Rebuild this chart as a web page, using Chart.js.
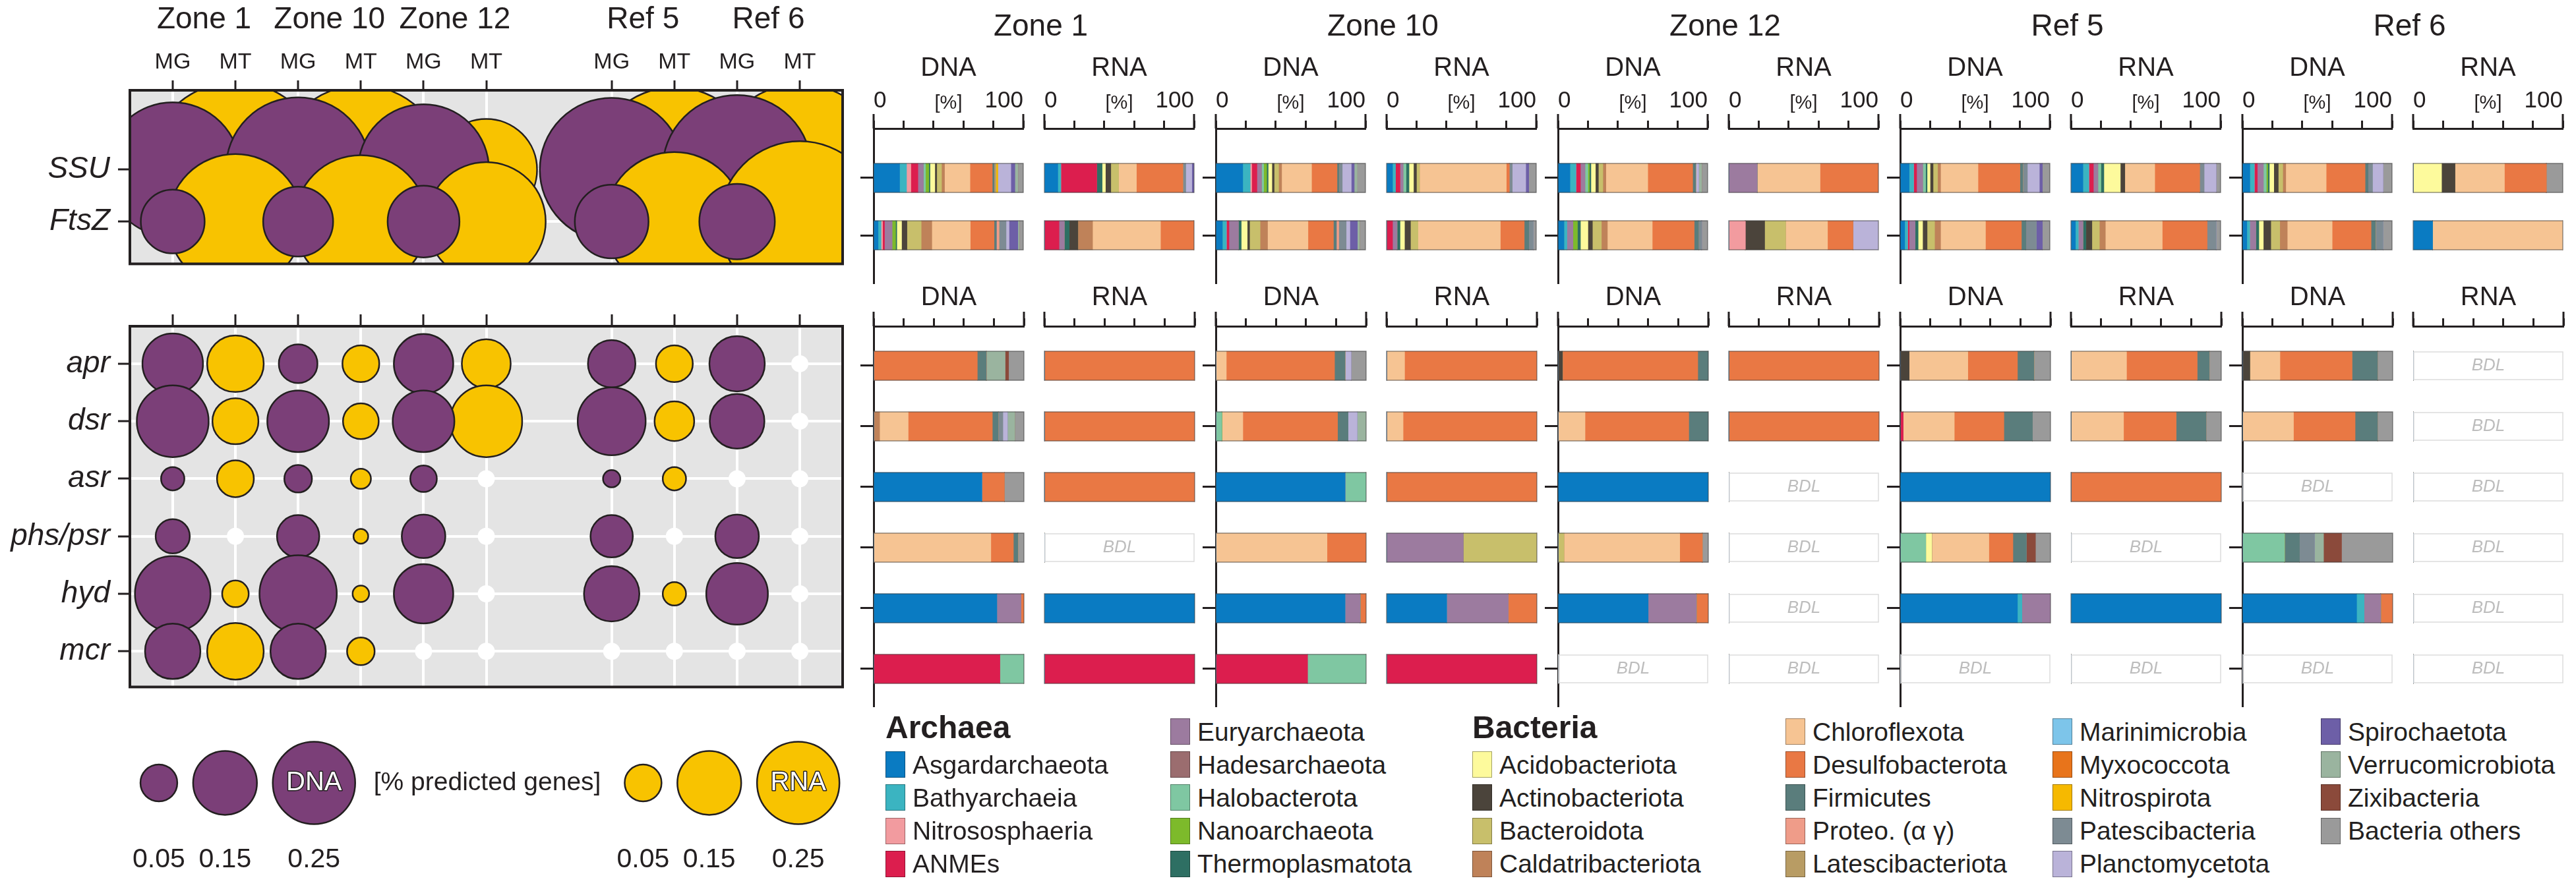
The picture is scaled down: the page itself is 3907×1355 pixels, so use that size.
<!DOCTYPE html>
<html><head><meta charset="utf-8">
<script src="https://cdn.jsdelivr.net/npm/chart.js@4.4.1/dist/chart.umd.min.js"></script>
<style>
html,body{margin:0;padding:0;background:#fff;}
#wrap{position:relative;width:3907px;height:1355px;overflow:hidden;background:#fff;font-family:'Liberation Sans',Arial,sans-serif;color:#231f20;}
canvas{position:absolute;}
.t{position:absolute;white-space:nowrap;line-height:1;}
.li{position:absolute;display:flex;align-items:center;height:50px;white-space:nowrap;}
.sw{width:30px;height:40px;box-sizing:border-box;border:1.5px solid rgba(0,0,0,0.35);margin-right:11px;flex:none;}
</style></head><body><div id="wrap"></div>
<script>
// ================= DATA =================
const zones = ['Zone 1', 'Zone 10', 'Zone 12', 'Ref 5', 'Ref 6'];
const zoneGroup = ['field', 'field', 'field', 'reference', 'reference'];
const libTypes = ['MG', 'MT'];
const nucTypes = ['DNA', 'RNA'];
const markerGenes = ['SSU', 'FtsZ'];
const funcGenes = ['apr', 'dsr', 'asr', 'phs/psr', 'hyd', 'mcr'];

// bubble values [% predicted genes] per zone (MG = DNA, MT = RNA)
const mgSSU  = [0.67, 0.77, 0.63, 0.76, 0.82];
const mtSSU  = [1.13, 1.05, 0.38, 1.00, 1.08];
const mgFtsZ = [0.15, 0.18, 0.19, 0.20, 0.21];
const mtFtsZ = [0.67, 0.65, 0.52, 0.71, 0.95];
const mgApr = [0.135, 0.055, 0.13, 0.083, 0.113];
const mtApr = [0.118, 0.05, 0.088, 0.05, 0];
const mgDsr = [0.19, 0.14, 0.14, 0.17, 0.11];
const mtDsr = [0.078, 0.047, 0.19, 0.058, 0];
const mgAsr = [0.02, 0.028, 0.026, 0.011, 0];
const mtAsr = [0.05, 0.015, 0, 0.02, 0];
const mgPhs = [0.043, 0.066, 0.07, 0.066, 0.07];
const mtPhs = [0, 0.008, 0, 0, 0];
const mgHyd = [0.21, 0.22, 0.13, 0.113, 0.14];
const mtHyd = [0.026, 0.01, 0, 0.02, 0];
const mgMcr = [0.113, 0.113, 0, 0, 0];
const mtMcr = [0.118, 0.028, 0, 0, 0];
const sizeRefVals = [0.05, 0.15, 0.25];

// taxa
const taxonCodes = ['Asg','Bat','Nit','ANM','Eur','Had','Hal','Nan','The','Aci','Act','Bac','Cal','Chl','Des','Fir','Pro','Lat','Mar','Myx','Nis','Pat','Pla','Spi','Ver','Zix','Oth'];
const taxonNames = ['Asgardarchaeota','Bathyarchaeia','Nitrososphaeria','ANMEs','Euryarchaeota','Hadesarchaeota','Halobacterota','Nanoarchaeota','Thermoplasmatota','Acidobacteriota','Actinobacteriota','Bacteroidota','Caldatribacteriota','Chloroflexota','Desulfobacterota','Firmicutes','Proteo. (\u03b1 \u03b3)','Latescibacteriota','Marinimicrobia','Myxococcota','Nitrospirota','Patescibacteria','Planctomycetota','Spirochaetota','Verrucomicrobiota','Zixibacteria','Bacteria others'];
const taxonColors = ['#0a7bc2','#3bb4c1','#f29b9f','#dc1e4e','#9c7b9f','#9b6d6f','#7fc7a2','#7dba2b','#2e6f63','#fdfa9c','#4b443b','#c8bf6b','#bf8259','#f6c493','#e97844','#5a7d7c','#ef9c89','#b89c64','#7dc5ea','#e8741b','#f6b900','#7d8b93','#bab3d9','#6d5fa7','#9ab49f','#8b4a3b','#9a9a9a'];

// taxonomic composition [%] of each bar (BDL = below detection limit)
const z1DnaMarker  = ['Asg 17.4 Bat 4.6 Nit 2.9 ANM 4.7 Eur 3.6 Hal 1.5 Nan 2.2 The 0.8 Aci 3.2 Act 1.3 Bac 3.2 Cal 2 Chl 17 Des 14.9 Fir 1.3 Lat 1 Nis 1.4 Pla 8.7 Spi 2.7 Ver 2 Oth 3.8',
                      'Asg 3 Bat 2 Nit 1 ANM 1.3 Eur 5 Nan 2.4 The 0.8 Aci 3.2 Act 3.6 Bac 9.5 Cal 7.1 Chl 25.7 Des 15.9 Fir 1.6 Pro 1.6 Pat 4.8 Pla 2 Spi 5.9 Ver 1 Oth 2.6'];
const z1RnaMarker  = ['Asg 9 Bat 2 ANM 24 The 3.6 Aci 2.2 Act 3.6 Bac 5.2 Chl 11.9 Des 31 Pat 2 Pla 4 Spi 1.5',
                      'ANM 9.8 Eur 3.5 The 3.3 Act 5.8 Cal 9.8 Chl 45.4 Des 22.4'];
const z10DnaMarker = ['Asg 18 Bat 5 Nit 1 ANM 3.5 Eur 3 Hal 1.5 Nan 2 The 1 Aci 2.5 Act 1.5 Bac 3 Cal 2 Chl 20 Des 17 Fir 1.5 Pat 2 Pla 6 Spi 2 Ver 2 Oth 5.5',
                      'Asg 4.4 Bat 2.7 ANM 1.7 Eur 6.3 The 1.9 Aci 4 Act 1.6 Bac 7 Cal 5 Chl 27 Des 17 Fir 2 Pro 1.5 Pat 5 Pla 2.5 Spi 5 Ver 1.5 Oth 3.9'];
const z10RnaMarker = ['Asg 4 Bat 2 ANM 3 Eur 2 Hal 2 The 2 Aci 3 Act 2 Bac 2 Chl 58 Des 2 Pat 2 Pla 9 Spi 2 Oth 5',
                      'ANM 4 Eur 3 The 2 Aci 3 Act 4 Bac 5 Chl 55 Des 16 Fir 3 Pat 3 Oth 2'];
const z12DnaMarker = ['Asg 8 Bat 4 ANM 3 Eur 3 Hal 2 Nan 1 The 1 Aci 3 Act 2 Bac 3 Cal 2 Chl 28 Des 30 Fir 2 Pla 2 Ver 2 Oth 4',
                      'Asg 4 Bat 2 Eur 4 Nan 3 The 2 Aci 5 Act 3 Bac 6 Cal 4 Chl 30 Des 28 Fir 3 Pat 2 Oth 4'];
const z12RnaMarker = ['Eur 19 Chl 42 Des 39',
                      'Nit 11 Act 13 Bac 14 Chl 28 Des 17 Pla 17'];
const r5DnaMarker  = ['Asg 6 Bat 3 ANM 2 Eur 4 Hal 2 The 1 Aci 2 Act 2 Bac 3 Cal 2 Chl 25 Des 28 Fir 2 Pat 3 Pla 8 Spi 2 Oth 5',
                      'Asg 3 Bat 2 ANM 1 Eur 4 The 2 Aci 3 Act 3 Bac 5 Cal 4 Chl 30 Des 24 Fir 3 Pat 7 Spi 4 Oth 5'];
const r5RnaMarker  = ['Asg 8 Bat 4 ANM 3 Eur 3 Hal 2 The 2 Aci 11 Act 3 Chl 20 Des 30 Pat 3 Pla 8 Oth 3',
                      'Asg 3 Bat 2 Eur 3 The 2 Act 4 Bac 5 Cal 4 Chl 38 Des 30 Pat 6 Oth 3'];
const r6DnaMarker  = ['Asg 5 Bat 3 ANM 2 Eur 4 Hal 2 Nan 1 The 1 Aci 3 Act 3 Bac 3 Cal 2 Chl 27 Des 26 Fir 2 Pat 3 Pla 7 Oth 6',
                      'Asg 3 Bat 2 Eur 4 The 2 Aci 3 Act 5 Bac 6 Cal 5 Chl 30 Des 26 Fir 3 Pat 5 Oth 6'];
const r6RnaMarker  = ['Aci 19 Act 9 Chl 33 Des 28 Oth 11',
                      'Asg 13 Chl 87'];

const z1DnaFunc  = ['Des 69 Fir 6 Ver 12.5 Zix 2.3 Oth 10.2', 'Cal 4 Chl 19 Des 56 Fir 4 Pat 3 Pla 3 Ver 5 Oth 6', 'Asg 72 Des 15 Oth 13', 'Chl 78 Des 15 Fir 3 Oth 4', 'Asg 82 Eur 16 Des 2', 'ANM 84 Hal 16'];
const z1RnaFunc  = ['Des 100', 'Des 100', 'Des 100', 'BDL', 'Asg 100', 'ANM 100'];
const z10DnaFunc = ['Chl 7 Des 72 Fir 7 Pla 4 Oth 10', 'Hal 4 Chl 14 Des 63 Fir 7 Pla 6 Ver 6', 'Asg 86 Hal 14', 'Chl 74 Des 26', 'Asg 86 Eur 10 Des 4', 'ANM 61 Hal 39'];
const z10RnaFunc = ['Chl 12 Des 88', 'Chl 11 Des 89', 'Des 100', 'Eur 51 Bac 49', 'Asg 40 Eur 41 Des 19', 'ANM 100'];
const z12DnaFunc = ['Act 3 Des 90 Fir 7', 'Chl 18 Des 69 Fir 13', 'Asg 100', 'Bac 4 Chl 77 Des 15 Oth 4', 'Asg 60 Eur 32 Des 8', 'BDL'];
const z12RnaFunc = ['Des 100', 'Des 100', 'BDL', 'BDL', 'BDL', 'BDL'];
const r5DnaFunc  = ['Act 6 Chl 39 Des 33 Fir 11 Oth 11', 'ANM 2 Chl 34 Des 33 Fir 19 Oth 12', 'Asg 100', 'Hal 17 Aci 4 Chl 38 Des 16 Fir 9 Zix 6 Oth 10', 'Asg 78 Bat 3 Eur 19', 'BDL'];
const r5RnaFunc  = ['Chl 37 Des 47 Fir 8 Oth 8', 'Chl 35 Des 35 Fir 20 Oth 10', 'Des 100', 'BDL', 'Asg 100', 'BDL'];
const r6DnaFunc  = ['Act 5 Chl 20 Des 48 Fir 17 Oth 10', 'Chl 34 Des 41 Fir 15 Oth 10', 'BDL', 'Hal 28 Fir 10 Pat 10 Ver 6 Zix 12 Oth 34', 'Asg 76 Bat 5 Eur 11 Des 8', 'BDL'];
const r6RnaFunc  = ['BDL', 'BDL', 'BDL', 'BDL', 'BDL', 'BDL'];

// legend arrangement (columns of taxon codes, '#' = group heading)
const legendCols = [['#Archaea','Asg','Bat','Nit','ANM'], ['Eur','Had','Hal','Nan','The'], ['#Bacteria','Aci','Act','Bac','Cal'], ['Chl','Des','Fir','Pro','Lat'], ['Mar','Myx','Nis','Pat','Pla'], ['Spi','Ver','Zix','Oth']];

// ================= BUILD =================
const markerComp = [[z1DnaMarker, z1RnaMarker], [z10DnaMarker, z10RnaMarker], [z12DnaMarker, z12RnaMarker], [r5DnaMarker, r5RnaMarker], [r6DnaMarker, r6RnaMarker]];
const funcComp = [[z1DnaFunc, z1RnaFunc], [z10DnaFunc, z10RnaFunc], [z12DnaFunc, z12RnaFunc], [r5DnaFunc, r5RnaFunc], [r6DnaFunc, r6RnaFunc]];
const mgFunc = [mgApr, mgDsr, mgAsr, mgPhs, mgHyd, mgMcr];
const mtFunc = [mtApr, mtDsr, mtAsr, mtPhs, mtHyd, mtMcr];

const ink = '#231f20', purple = '#7b3f78', gold = '#f8c300', panelBg = '#e4e4e4';
const FONT = "'Liberation Sans',Arial,sans-serif";
Chart.defaults.font.family = FONT;
Chart.defaults.color = ink;
const RK = 125;                       // px radius per sqrt(% predicted genes)
const rOf = v => v > 0 ? RK * Math.sqrt(v) : 13;

const wrap = document.getElementById('wrap');
function mk(l, t, w, h) {
  const c = document.createElement('canvas');
  c.width = w; c.height = h;
  c.style.left = l + 'px'; c.style.top = t + 'px'; c.style.width = w + 'px'; c.style.height = h + 'px';
  wrap.appendChild(c); return c;
}
function parseComp(s) {
  if (s === 'BDL') return null;
  const p = s.trim().split(/\s+/), o = {};
  for (let i = 0; i < p.length; i += 2) o[p[i]] = parseFloat(p[i + 1]);
  return o;
}
const baseOpts = { responsive: false, animation: false, devicePixelRatio: 1, events: [],
  plugins: { legend: { display: false }, tooltip: { enabled: false }, title: { display: false } } };

// column slots (an empty slot separates field zones from reference sites)
const slots = []; { let s = 0; zones.forEach((z, i) => { if (i > 0 && zoneGroup[i] !== zoneGroup[i - 1]) s++; slots.push(s); s += 2; }); }
const colX = [], colLab = [];
zones.forEach((z, i) => libTypes.forEach((t, j) => { colX.push(slots[i] + j); colLab.push(t); }));
const zoneMid = slots.map(s => s + 0.5);
const xMin = colX[0] - 0.683, xMax = colX[colX.length - 1] + 0.683;

const boxPlugin = { id: 'box',
  beforeDraw(c) { const a = c.chartArea, x = c.ctx; x.save(); x.fillStyle = panelBg; x.fillRect(a.left, a.top, a.width, a.height); x.restore(); },
  afterDraw(c) { const a = c.chartArea, x = c.ctx; x.save(); x.strokeStyle = ink; x.lineWidth = 4; x.strokeRect(a.left, a.top, a.width, a.height); x.restore(); } };

function bubbleDs(label, vals, row, type, color, order) {
  return { label, order, clip: 0,
    data: vals.map((v, z) => ({ x: colX[z * 2 + type], y: row, r: rOf(v), v })),
    backgroundColor: c => (c.raw && c.raw.v === 0) ? '#ffffff' : color,
    borderColor: ink,
    borderWidth: c => (c.raw && c.raw.v === 0) ? 0 : 2.5 };
}
function bubbleScales(rows, yMin, yMax, xH, showLabels, withZones) {
  const sc = {
    x: { type: 'linear', position: 'top', min: xMin, max: xMax, weight: 1,
      afterBuildTicks: s => { s.ticks = colX.map(v => ({ value: v })); },
      afterFit: s => { s.height = xH; },
      ticks: { display: showLabels, font: { size: 34 }, padding: 7, autoSkip: false, maxRotation: 0, callback: (v, i) => colLab[i] },
      grid: { color: '#ffffff', lineWidth: 4, tickColor: ink, tickWidth: 3, tickLength: showLabels ? 15 : 18 },
      border: { display: false } },
    y: { type: 'linear', reverse: true, min: yMin, max: yMax,
      afterBuildTicks: s => { s.ticks = rows.map((r, i) => ({ value: i })); },
      afterFit: s => { s.width = 197; },
      ticks: { font: { size: 46, style: 'italic' }, padding: 12, callback: (v, i) => rows[i] },
      grid: { color: '#ffffff', lineWidth: 4, tickColor: ink, tickWidth: 3, tickLength: 18 },
      border: { display: false } }
  };
  if (withZones) sc.xz = { type: 'linear', position: 'top', min: xMin, max: xMax, weight: 2,
      afterBuildTicks: s => { s.ticks = zoneMid.map(v => ({ value: v })); },
      afterFit: s => { s.height = 75; },
      ticks: { font: { size: 46 }, padding: 9, autoSkip: false, maxRotation: 0, callback: (v, i) => zones[i] },
      grid: { display: false }, border: { display: false } };
  return sc;
}

// --- top bubble panel (SSU / FtsZ)
new Chart(mk(0, 0, 1290, 440), { type: 'bubble',
  data: { datasets: [
    bubbleDs('SSU MT', mtSSU, 0, 1, gold, 3), bubbleDs('SSU MG', mgSSU, 0, 0, purple, 2),
    bubbleDs('FtsZ MT', mtFtsZ, 1, 1, gold, 1), bubbleDs('FtsZ MG', mgFtsZ, 1, 0, purple, 0)] },
  options: Object.assign({}, baseOpts, { layout: { autoPadding: false, padding: { left: 0, right: 12, top: 0, bottom: 12 } },
    scales: bubbleScales(markerGenes, -1.53, 1.816, 62, true, true) }),
  plugins: [boxPlugin] });

// --- bottom bubble panel (functional genes)
const fdMG = [], fdMT = [];
funcGenes.forEach((g, gi) => {
  mgFunc[gi].forEach((v, z) => fdMG.push({ x: colX[z * 2], y: gi, r: rOf(v), v }));
  mtFunc[gi].forEach((v, z) => fdMT.push({ x: colX[z * 2 + 1], y: gi, r: rOf(v), v }));
});
function ptDs(label, pts, color, order) {
  return { label, order, clip: 0, data: pts,
    backgroundColor: c => (c.raw && c.raw.v === 0) ? '#ffffff' : color, borderColor: ink,
    borderWidth: c => (c.raw && c.raw.v === 0) ? 0 : 2.5 };
}
new Chart(mk(0, 440, 1290, 642), { type: 'bubble',
  data: { datasets: [ptDs('MT', fdMT, gold, 1), ptDs('MG', fdMG, purple, 0)] },
  options: Object.assign({}, baseOpts, { layout: { autoPadding: false, padding: { left: 0, right: 12, top: 0, bottom: 10 } },
    scales: bubbleScales(funcGenes, -0.652, 5.62, 55, false, false) }),
  plugins: [boxPlugin] });

// --- stacked bar panels
const BAR0 = 1325, ZONE_PITCH = 519, NUC_PITCH = 259, AXW = 228;
function barDeco(parsed) {
  return { id: 'deco', afterDatasetsDraw(c) {
    const ctx = c.ctx, xs = c.scales.x, ys = c.scales.y, a = c.chartArea;
    ctx.save();
    parsed.forEach((p, i) => {
      const yc = ys.getPixelForValue(i), x0 = xs.getPixelForValue(0);
      if (p) {
        const tot = Object.values(p).reduce((s, v) => s + v, 0);
        const x1 = xs.getPixelForValue(Math.min(tot, 100));
        ctx.strokeStyle = 'rgba(60,60,60,0.55)'; ctx.lineWidth = 1.5; ctx.strokeRect(x0, yc - 22, x1 - x0, 44);
      } else {
        const x1 = xs.getPixelForValue(100);
        ctx.strokeStyle = '#dcdcdc'; ctx.lineWidth = 1.5; ctx.strokeRect(x0 + 1, yc - 21, x1 - x0 - 2, 42);
        ctx.fillStyle = '#bdbdbd'; ctx.font = 'italic 26px ' + FONT; ctx.textAlign = 'center'; ctx.textBaseline = 'middle';
        ctx.fillText('BDL', (x0 + x1) / 2, yc);
      }
    });
    ctx.strokeStyle = ink; ctx.lineWidth = 3; ctx.beginPath();
    [0, 100].forEach(v => { const x = xs.getPixelForValue(v); ctx.moveTo(x, a.top); ctx.lineTo(x, a.top - 22); });
    ctx.stroke(); ctx.restore();
  } };
}
function barChart(left, top, h, xH, rows, comps, nuc, yMin, yMax, withAxis, labels, titlePad) {
  const parsed = comps.map(parseComp);
  const tickVals = labels ? [0, 20, 40, 50, 60, 80, 100] : [0, 20, 40, 60, 80, 100];
  new Chart(mk(left - 22, top, 22 + AXW + 8, h), { type: 'bar',
    data: { datasets: taxonCodes.map((code, k) => ({ label: taxonNames[k], backgroundColor: taxonColors[k], stack: 's',
      barThickness: 44, borderWidth: 0,
      data: parsed.map((p, i) => ({ y: i, x: (p && p[code]) ? p[code] : 0 })) })) },
    options: Object.assign({}, baseOpts, { indexAxis: 'y',
      layout: { autoPadding: false, padding: { left: 0, right: 8, top: 0, bottom: 10 } },
      scales: {
        x: { type: 'linear', position: 'top', min: 0, max: 100, stacked: true, offset: false,
          afterBuildTicks: s => { s.ticks = tickVals.map(v => ({ value: v })); },
          afterFit: s => { s.height = xH; },
          ticks: { display: labels, align: 'inner', padding: 9, autoSkip: false, maxRotation: 0, color: ink,
            font: c => ({ size: (c.tick && c.tick.value === 50) ? 29 : 35 }),
            callback: v => v === 0 ? '0' : v === 100 ? '100' : v === 50 ? '[%]' : '' },
          grid: { drawOnChartArea: false, offset: false, tickLength: 12, tickWidth: 3,
            tickColor: c => (c.tick && c.tick.value === 50) ? 'rgba(0,0,0,0)' : ink },
          border: { display: true, color: ink, width: 3 },
          title: { display: true, text: nuc, color: ink, font: { size: 40 }, padding: { top: titlePad, bottom: 0 } } },
        y: { type: 'linear', reverse: true, min: yMin, max: yMax, offset: false,
          afterBuildTicks: s => { s.ticks = rows.map((r, i) => ({ value: i })); },
          afterFit: s => { s.width = 22; },
          ticks: { display: false },
          grid: { drawOnChartArea: false, offset: false, tickLength: 20, tickWidth: 3, tickColor: withAxis ? ink : 'rgba(0,0,0,0)' },
          border: { display: withAxis, color: ink, width: 3 } } } }),
    plugins: [barDeco(parsed)] });
}
zones.forEach((z, zi) => {
  nucTypes.forEach((n, ni) => {
    const x0 = BAR0 + zi * ZONE_PITCH + ni * NUC_PITCH;
    barChart(x0, 0, 440, 195, markerGenes, markerComp[zi][ni], n, -0.862, 1.839, ni === 0, true, 80);
    barChart(x0, 420, 662, 75, funcGenes, funcComp[zi][ni], n, -0.652, 5.62, ni === 0, false, 8);
  });
  const d = document.createElement('div'); d.className = 't'; d.textContent = z;
  d.style.left = (BAR0 + zi * ZONE_PITCH + 10) + 'px'; d.style.width = (NUC_PITCH + AXW) + 'px';
  d.style.textAlign = 'center'; d.style.top = '15px'; d.style.fontSize = '46px';
  wrap.appendChild(d);
});

// --- size legend
const mctx = document.createElement('canvas').getContext('2d');
mctx.font = '39px ' + FONT;
const unitText = '[% predicted genes]';
const szPts = []; let unitX = 0;
{ let edge = 213;
  nucTypes.forEach((n, ni) => {
    sizeRefVals.forEach((v, k) => { const r = rOf(v); szPts.push({ x: edge + r, y: 0, r, v, ni, last: k === sizeRefVals.length - 1 }); edge += 2 * r + 24; });
    if (ni === 0) { unitX = edge - 24 + 28; edge = unitX + mctx.measureText(unitText).width + 36; }
  }); }
new Chart(mk(0, 1116, 1300, 239), { type: 'bubble',
  data: { datasets: nucTypes.map((n, ni) => ({ label: n, data: szPts.filter(p => p.ni === ni),
    backgroundColor: ni === 0 ? purple : gold, borderColor: ink, borderWidth: 2.5 })) },
  options: Object.assign({}, baseOpts, { layout: { autoPadding: false, padding: 0 },
    scales: {
      x: { type: 'linear', position: 'bottom', min: 0, max: 1300,
        afterBuildTicks: s => { s.ticks = szPts.map(p => ({ value: p.x })); },
        afterFit: s => { s.height = 95; },
        ticks: { font: { size: 41 }, padding: 12, autoSkip: false, maxRotation: 0, callback: (v, i) => szPts[i].v.toFixed(2) },
        grid: { display: false }, border: { display: false } },
      y: { display: false, min: -1, max: 1 } } }),
  plugins: [{ id: 'szText', afterDatasetsDraw(c) {
    const ctx = c.ctx, xs = c.scales.x, ys = c.scales.y, yc = ys.getPixelForValue(0);
    ctx.save(); ctx.textBaseline = 'middle';
    ctx.fillStyle = ink; ctx.font = '39px ' + FONT; ctx.textAlign = 'left';
    ctx.fillText(unitText, xs.getPixelForValue(unitX), yc);
    ctx.font = '40px ' + FONT; ctx.textAlign = 'center'; ctx.lineWidth = 3; ctx.lineJoin = 'round'; ctx.strokeStyle = ink; ctx.fillStyle = '#ffffff';
    szPts.filter(p => p.last).forEach(p => { const px = xs.getPixelForValue(p.x); ctx.strokeText(nucTypes[p.ni], px, yc); ctx.fillText(nucTypes[p.ni], px, yc); });
    ctx.restore(); } }] });

// --- taxa legend
const legendColX = [1343, 1775, 2233, 2708, 3113, 3520];
legendCols.forEach((col, ci) => col.forEach((code, ri) => {
  const yc = 1110 + 50.2 * ri;
  if (code[0] === '#') {
    const d = document.createElement('div'); d.className = 't'; d.textContent = code.slice(1);
    d.style.left = legendColX[ci] + 'px'; d.style.top = (yc - 30) + 'px'; d.style.fontSize = '48px'; d.style.fontWeight = 'bold';
    wrap.appendChild(d); return;
  }
  const k = taxonCodes.indexOf(code);
  const d = document.createElement('div'); d.className = 'li';
  d.style.left = legendColX[ci] + 'px'; d.style.top = (yc - 25) + 'px';
  const sw = document.createElement('div'); sw.className = 'sw'; sw.style.background = taxonColors[k];
  const tx = document.createElement('span'); tx.textContent = taxonNames[k]; tx.style.fontSize = '39px'; tx.style.lineHeight = '1';
  d.appendChild(sw); d.appendChild(tx); wrap.appendChild(d);
}));
</script></body></html>
